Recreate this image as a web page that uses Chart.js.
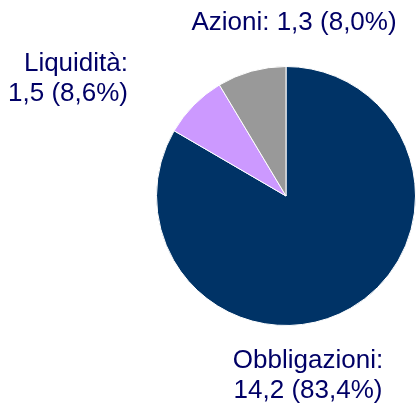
<!DOCTYPE html>
<html>
<head>
<meta charset="utf-8">
<script src="https://cdn.jsdelivr.net/npm/chart.js@4"></script>
<style>
  html, body { margin: 0; padding: 0; background: #fff; }
  #wrap { width: 416px; height: 407px; }
</style>
</head>
<body>
<div id="wrap"><canvas id="pie"></canvas></div>
<script>
// Slices, clockwise from 12 o'clock
const categories = ['Obbligazioni', 'Azioni', 'Liquidità'];
const amounts = ['14,2', '1,3', '1,5'];
const percents = [83.4, 8.0, 8.6];
const sliceColors = ['#003366', '#cc99ff', '#999999'];

// Where each text label sits, as offsets from the pie centre
const labelSpots = [
    { dx: 22, dy: 172, align: 'center', lines: 2 },
    { dx: 8, dy: -166, align: 'center', lines: 1 },
    { dx: -158, dy: -125, align: 'right', lines: 2 }
];

const pieLabels = {
    id: 'pieLabels',
    afterDraw(chart) {
        const ctx = chart.ctx;
        const arc = chart.getDatasetMeta(0).data[0];
        const cx = arc.x, cy = arc.y;
        ctx.save();
        ctx.fillStyle = '#000066';
        ctx.font = '26px "Liberation Sans", Arial, sans-serif';
        ctx.textBaseline = 'alphabetic';
        categories.forEach((name, i) => {
            const spot = labelSpots[i];
            const pct = percents[i].toFixed(1).replace('.', ',');
            const rest = amounts[i] + ' (' + pct + '%)';
            const lines = spot.lines === 2 ? [name + ':', rest] : [name + ': ' + rest];
            ctx.textAlign = spot.align;
            lines.forEach((txt, k) => {
                ctx.fillText(txt, cx + spot.dx, cy + spot.dy + k * 30);
            });
        });
        ctx.restore();
    }
};

new Chart(document.getElementById('pie'), {
    type: 'pie',
    data: {
        labels: categories,
        datasets: [{
            data: percents,
            backgroundColor: sliceColors,
            borderColor: '#ffffff',
            borderWidth: 1
        }]
    },
    options: {
        responsive: true,
        maintainAspectRatio: false,
        animation: false,
        layout: { padding: { left: 156, top: 65, right: -1, bottom: 80 } },
        plugins: {
            legend: { display: false },
            tooltip: { enabled: false }
        }
    },
    plugins: [pieLabels]
});
</script>
</body>
</html>
